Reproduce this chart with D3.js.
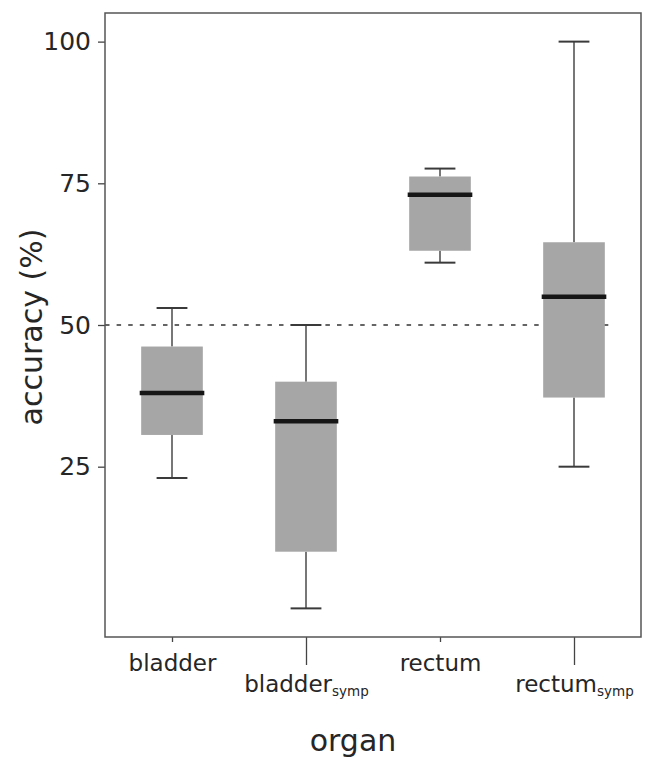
<!DOCTYPE html>
<html>
<head>
<meta charset="utf-8">
<script src="https://cdn.jsdelivr.net/npm/d3@7"></script>
<style>
  body { margin: 0; background: #fff; }
  text { font-family: "DejaVu Sans", sans-serif; fill: #262626; }
</style>
</head>
<body>
<div id="chart"></div>
<script>
// category names, with an optional subscript part
let categories = ["bladder", "bladder", "rectum", "rectum"];
let subscripts = ["", "symp", "", "symp"];

// box statistics (accuracy %)
let whiskerLow = [23, 0, 61, 25];
let q1 = [30.6, 10, 63.1, 37.2];
let median = [38, 33, 73, 55];
let q3 = [46.2, 40, 76.2, 64.6];
let whiskerHigh = [53, 50, 77.6, 100];

let chance = 50;
let yTicks = [25, 50, 75, 100];

let width = 656;
let height = 757;
let margin = { top: 13, right: 15, bottom: 120, left: 105 };

let svg = d3.select("#chart")
	.append("svg")
	.attr("width", width)
	.attr("height", height);

let x = d3.scaleLinear()
	.domain([-0.5, 3.5])
	.range([margin.left, width - margin.right]);

let y = d3.scaleLinear()
	.domain([-5.05, 105.05])
	.range([height - margin.bottom, margin.top]);

let boxW = 0.46;
let capW = 0.23;

let data = categories.map((c, i) => ({
	i: i,
	low: whiskerLow[i],
	q1: q1[i],
	med: median[i],
	q3: q3[i],
	high: whiskerHigh[i]
}));

let g = svg.append("g");

// chance line
g.append("line")
	.attr("x1", x(-0.5))
	.attr("x2", x(3.26))
	.attr("y1", y(chance))
	.attr("y2", y(chance))
	.attr("stroke", "#333")
	.attr("stroke-width", 1.6)
	.attr("stroke-dasharray", "4.5,7.1");

let boxes = g.selectAll(".box")
	.data(data)
	.enter()
	.append("g")
	.attr("class", "box");

// whiskers
boxes.append("line")
	.attr("x1", d => x(d.i))
	.attr("x2", d => x(d.i))
	.attr("y1", d => y(d.q3))
	.attr("y2", d => y(d.high))
	.attr("stroke", "#4a4a4a")
	.attr("stroke-width", 1.5);

boxes.append("line")
	.attr("x1", d => x(d.i))
	.attr("x2", d => x(d.i))
	.attr("y1", d => y(d.q1))
	.attr("y2", d => y(d.low))
	.attr("stroke", "#4a4a4a")
	.attr("stroke-width", 1.5);

// caps
["low", "high"].forEach(k => {
	boxes.append("line")
		.attr("x1", d => x(d.i - capW / 2))
		.attr("x2", d => x(d.i + capW / 2))
		.attr("y1", d => y(d[k]))
		.attr("y2", d => y(d[k]))
		.attr("stroke", "#3a3a3a")
		.attr("stroke-width", 2);
});

// box body
boxes.append("rect")
	.attr("x", d => x(d.i - boxW / 2))
	.attr("width", d => x(d.i + boxW / 2) - x(d.i - boxW / 2))
	.attr("y", d => y(d.q3))
	.attr("height", d => y(d.q1) - y(d.q3))
	.attr("fill", "#a6a6a6");

// median
boxes.append("line")
	.attr("x1", d => x(d.i - boxW / 2) - 1.5)
	.attr("x2", d => x(d.i + boxW / 2) + 1.5)
	.attr("y1", d => y(d.med))
	.attr("y2", d => y(d.med))
	.attr("stroke", "#161616")
	.attr("stroke-width", 4.5);

// y axis
let yAxis = svg.append("g")
	.attr("transform", "translate(" + margin.left + ",0)")
	.call(d3.axisLeft(y).tickValues(yTicks).tickSize(7).tickPadding(7));
yAxis.select(".domain").remove();
yAxis.selectAll("line").attr("stroke", "#444").attr("stroke-width", 1.3);
yAxis.selectAll("text")
	.style("font-size", "25px")
	.style("font-family", "DejaVu Sans, sans-serif")
	.attr("fill", "#262626");

// x axis, staggered labels
let xAxis = svg.append("g")
	.attr("transform", "translate(0," + (height - margin.bottom) + ")")
	.call(d3.axisBottom(x).tickValues([0, 1, 2, 3]).tickFormat(""));
xAxis.select(".domain").remove();
xAxis.selectAll(".tick line")
	.attr("y2", (d, i) => subscripts[i] ? 28 : 5)
	.attr("stroke", "#444")
	.attr("stroke-width", 1.3);

let labels = xAxis.selectAll(".tick text")
	.attr("y", (d, i) => subscripts[i] ? 55 : 34)
	.attr("dy", 0)
	.style("font-size", "23px")
	.style("font-family", "DejaVu Sans, sans-serif")
	.attr("fill", "#262626")
	.text("");
labels.each(function (d, i) {
	let t = d3.select(this);
	t.append("tspan").text(categories[i]);
	if (subscripts[i]) {
		t.append("tspan")
			.attr("dy", 4)
			.style("font-size", "13.5px")
			.text(subscripts[i]);
	}
});

// frame
svg.append("rect")
	.attr("x", margin.left)
	.attr("y", margin.top)
	.attr("width", width - margin.left - margin.right)
	.attr("height", height - margin.top - margin.bottom)
	.attr("fill", "none")
	.attr("stroke", "#555")
	.attr("stroke-width", 1.5);

// axis titles
svg.append("text")
	.attr("text-anchor", "middle")
	.attr("transform", "translate(42," + 327 + ") rotate(-90)")
	.style("font-size", "30px")
	.text("accuracy (%)");

svg.append("text")
	.attr("text-anchor", "middle")
	.attr("x", 353)
	.attr("y", 751)
	.style("font-size", "30px")
	.text("organ");
</script>
</body>
</html>
